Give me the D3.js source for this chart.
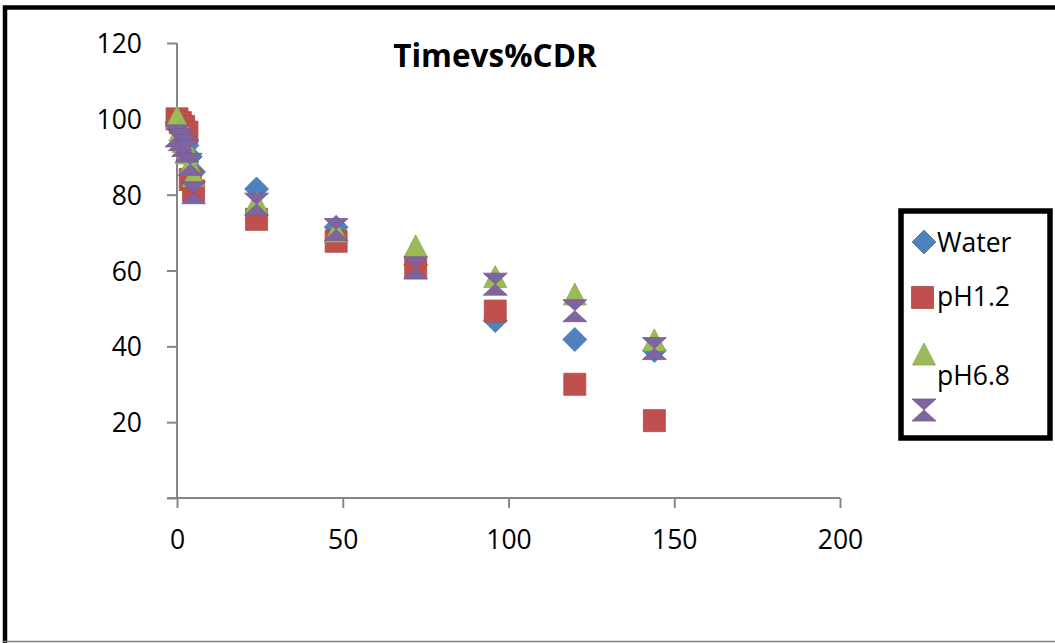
<!DOCTYPE html>
<html>
<head>
<meta charset="utf-8">
<script src="https://cdn.jsdelivr.net/npm/d3@7/dist/d3.min.js"></script>
<style>
  html, body { margin: 0; padding: 0; background: #fff; }
  svg { display: block; }
  text { font-family: "Open Sans", "Liberation Sans", sans-serif; fill: #000; }
</style>
</head>
<body>
<svg id="chart" width="1055" height="643"></svg>
<script>
// Sampling times (hours)
const times = [0, 1, 2, 3, 4, 5, 24, 48, 72, 96, 120, 144];

// %CDR per medium
const water = [99, 97, 95, 93, 90, 86, 81.5, 71.4, 61.5, 46.8, 41.8, 38.9];
const pH12  = [100, 99, 98, 96.5, 84, 81, 73.5, 67.7, 60.7, 49.3, 30, 20.4];
const pH68  = [100.5, 97, 94, 91, 88, 85, 78, 70.4, 66.5, 58.4, 53.8, 41.7];
const series4 = [95.5, 94.5, 93, 91.5, 88, 80.5, 77.5, 70.8, 60.7, 56.4, 49.4, 39.4];

const xTicks = [0, 50, 100, 150, 200];
const yTicks = [20, 40, 60, 80, 100, 120];

const seriesList = [
  { name: "Water", values: water, color: "#4F81BD", shape: "diamond" },
  { name: "pH1.2", values: pH12, color: "#C0504D", shape: "square" },
  { name: "pH6.8", values: pH68, color: "#9BBB59", shape: "triangle" },
  { name: "", values: series4, color: "#8064A2", shape: "hourglass" }
];

const svg = d3.select("#chart");

// Outer frame
svg.append("path")
  .attr("d", "M5,643 L5,7.5 L1055,7.5")
  .attr("fill", "none").attr("stroke", "#000").attr("stroke-width", 4.5);
svg.append("line")
  .attr("x1", 3).attr("x2", 1055).attr("y1", 641.5).attr("y2", 641.5)
  .attr("stroke", "#808080").attr("stroke-width", 1.5);

const x = d3.scaleLinear().domain([0, 200]).range([177, 840]);
const y = d3.scaleLinear().domain([0, 120]).range([498, 43]);

const axisColor = "#868686";

// Y axis
const yAxis = svg.append("g").attr("transform", `translate(${x(0)},0)`)
  .call(d3.axisLeft(y).tickValues([0].concat(yTicks)).tickSize(10).tickPadding(25)
    .tickFormat(d => d === 0 ? "" : d));
// X axis
const xAxis = svg.append("g").attr("transform", `translate(0,${y(0)})`)
  .call(d3.axisBottom(x).tickValues(xTicks).tickSize(10).tickPadding(22));

[yAxis, xAxis].forEach(g => {
  g.select(".domain").attr("stroke", axisColor).attr("stroke-width", 2);
  g.selectAll(".tick line").attr("stroke", axisColor).attr("stroke-width", 2);
  g.selectAll(".tick text")
    .attr("font-family", "'Open Sans', sans-serif")
    .attr("font-size", 26.5).attr("fill", "#000");
});
// x axis line extends left to the y-tick length
xAxis.select(".domain").attr("d", `M${x(0) - 10},0H${x(200)}`);
yAxis.select(".domain").attr("d", `M0,${y(120)}V${y(0)}`);
yAxis.selectAll(".tick text").attr("dy", "0.36em");

// Title
svg.append("text")
  .attr("x", 495).attr("y", 67).attr("text-anchor", "middle")
  .attr("font-size", 31.5).attr("font-weight", "bold")
  .text("Timevs%CDR");

// Marker shapes
function markerPath(shape) {
  switch (shape) {
    case "diamond": return "M0,-12 L12,0 L0,12 L-12,0 Z";
    case "square": return "M-11,-11 H11 V11 H-11 Z";
    case "triangle": return "M0,-11 L11.5,11 L-11.5,11 Z";
    case "hourglass": return "M-12,-11 L12,-11 L-12,11 L12,11 Z";
  }
}

seriesList.forEach(s => {
  svg.append("g").selectAll("path")
    .data(times.map((t, i) => ({ t, v: s.values[i] })))
    .join("path")
    .attr("transform", d => `translate(${x(d.t)},${y(d.v)})`)
    .attr("d", markerPath(s.shape))
    .attr("fill", s.color)
    .attr("stroke", d3.color(s.color).darker(0.3))
    .attr("stroke-width", 0.8)
    .attr("stroke-linejoin", "round");
});

// Legend
const legend = svg.append("g");
legend.append("rect")
  .attr("x", 901).attr("y", 211).attr("width", 149).attr("height", 227)
  .attr("fill", "#fff").attr("stroke", "#000").attr("stroke-width", 5.5);

const legendItems = [
  { s: seriesList[0], mx: 924, my: 242, ty: 252 },
  { s: seriesList[1], mx: 922.5, my: 297.5, ty: 306 },
  { s: seriesList[2], mx: 924, my: 354, ty: 385 },
  { s: seriesList[3], mx: 924, my: 410, ty: 0 }
];
legendItems.forEach(it => {
  legend.append("path")
    .attr("transform", `translate(${it.mx},${it.my})`)
    .attr("d", markerPath(it.s.shape))
    .attr("fill", it.s.color)
    .attr("stroke", d3.color(it.s.color).darker(0.3))
    .attr("stroke-width", 0.8);
  if (it.s.name) {
    legend.append("text")
      .attr("x", 937).attr("y", it.ty)
      .attr("font-size", 26.5)
      .text(it.s.name);
  }
});
</script>
</body>
</html>
